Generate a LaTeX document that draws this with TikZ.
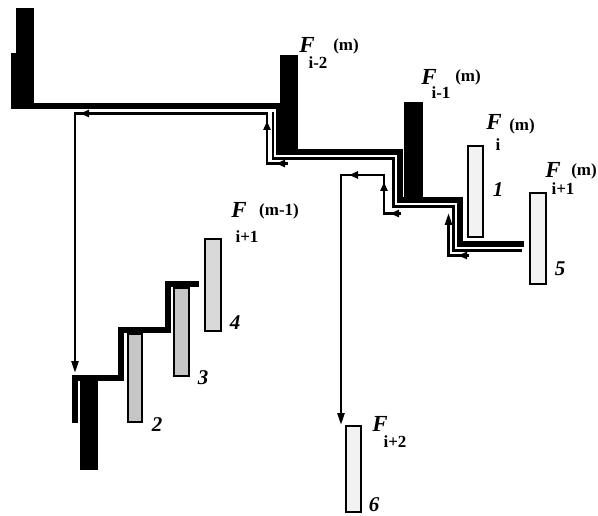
\documentclass[tikz,border=0pt]{standalone}
\usepackage{fontspec}
\setmainfont{Liberation Serif}
\usetikzlibrary{arrows.meta}
\begin{document}
\begin{tikzpicture}[x=1pt,y=-1pt,
  pipeouter/.style={line width=6pt, line join=miter},
  pipeinner/.style={line width=2.5pt, line join=miter},
  ret/.style={line width=2.4pt, line join=miter},
  endtip/.style={-{Triangle[length=12pt,width=7pt]}},
  midtip/.style={line width=2.4pt,-{Triangle[length=9pt,width=7pt]}},
  darkbar/.style={fill=black},
  lightbar/.style={draw=black, line width=2.8pt, fill=gray!10},
  midbar/.style={draw=black, line width=2.8pt, fill=gray!45},
  Flet/.style={font=\fontsize{23}{23}\selectfont\bfseries\itshape, inner sep=0pt},
  idx/.style={font=\fontsize{17}{17}\selectfont\bfseries, inner sep=0pt},
  num/.style={font=\fontsize{21}{21}\selectfont\bfseries\itshape, inner sep=0pt}]
\useasboundingbox (0,0) rectangle (598,516);

% bars
\fill[darkbar] (16,8) rectangle (34,103);
\fill[darkbar] (280,55) rectangle (298,150);
\fill[darkbar] (404,102) rectangle (423,197);
\fill[darkbar] (80,375) rectangle (98,470);
\draw[lightbar] (468,146) rectangle (483,237);
\draw[lightbar] (530,193) rectangle (546,284);
\draw[lightbar] (346,426) rectangle (361,512);
\draw[midbar] (128,334) rectangle (142,422);
\draw[midbar] (174,288) rectangle (189,376);
\draw[lightbar, fill=gray!30] (205,239) rectangle (221,331);

% upper pipe
\draw[pipeouter] (13.5,53) -- (13.5,106) -- (279,106) -- (279,152) -- (400,152) -- (400,200) -- (460,200) -- (460,244) -- (524,244);
\draw[pipeinner] (273,112) -- (273,158.5) -- (393.5,158.5) -- (393.5,206.5) -- (453.5,206.5) -- (453.5,250.5) -- (522,250.5);

% lower staircase
\draw[pipeouter] (75,423) -- (75,377.5) -- (120.5,377.5) -- (120.5,330.5) -- (167.5,330.5) -- (167.5,284.5) -- (199,284.5);

% return lines
\draw[ret, endtip] (286,163.5) -- (267,163.5) -- (267,113.5) -- (75,113.5) -- (75,373);
\draw[midtip] (288,163.5) -- (276,163.5);
\draw[midtip] (267,136) -- (267,121);
\draw[midtip] (95,113.5) -- (80,113.5);

\draw[ret, endtip] (400,213.5) -- (384,213.5) -- (384,175) -- (341,175) -- (341,425);
\draw[midtip] (401,213.5) -- (390,213.5);
\draw[midtip] (384,196) -- (384,182);
\draw[midtip] (363,175) -- (349,175);

\draw[ret, endtip] (468,255.5) -- (448.5,255.5) -- (448.5,213);
\draw[midtip] (469,255.5) -- (458,255.5);

% labels
\node[Flet] (f1) at (307,45) {F};
\node[idx] (f1s) at (318,63) {i-2};
\node[idx] (f1u) at (346,46) {(m)};

\node[Flet] (f2) at (429,77) {F};
\node[idx] (f2s) at (441,93) {i-1};
\node[idx] (f2u) at (468,77) {(m)};

\node[Flet] (f3) at (494,122) {F};
\node[idx] (f3s) at (498,145) {i};
\node[idx] (f3u) at (522,126) {(m)};

\node[Flet] (f4) at (553,170) {F};
\node[idx] (f4s) at (563,189) {i+1};
\node[idx] (f4u) at (584,171) {(m)};

\node[Flet] (f5) at (239,210) {F};
\node[idx] (f5s) at (247,237) {i+1};
\node[idx] (f5u) at (279,211) {(m-1)};

\node[Flet] (f6) at (380,424) {F};
\node[idx] (f6s) at (395,442) {i+2};

\node[num] (n1) at (498,190) {1};
\node[num] (n5) at (560,269) {5};
\node[num] (n6) at (374,505) {6};
\node[num] (n2) at (157,425) {2};
\node[num] (n3) at (203,378) {3};
\node[num] (n4) at (235,323) {4};
\end{tikzpicture}
\end{document}
